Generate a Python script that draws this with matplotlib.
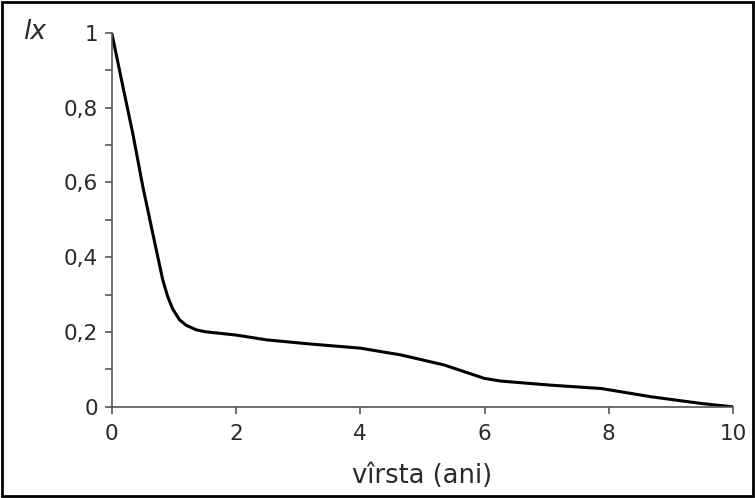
import numpy as np
import matplotlib
matplotlib.use("Agg")
import matplotlib.pyplot as plt
from matplotlib.patches import Rectangle
from matplotlib.ticker import FuncFormatter, MultipleLocator

# survival curve
age = [0, 0.18, 0.34, 0.5, 0.66, 0.82, 0.9, 0.98, 1.09, 1.2, 1.36, 1.5, 2.0, 2.5, 3.2,
       4.0, 4.65, 5.35, 6.0, 6.26, 7.07, 7.88, 8.68, 9.49, 10]
lx = [1.0, 0.856, 0.73, 0.589, 0.464, 0.34, 0.295, 0.262, 0.233, 0.218, 0.206, 0.201,
      0.192, 0.179, 0.168, 0.157, 0.139, 0.112, 0.076, 0.069, 0.058, 0.049, 0.027,
      0.009, 0.0]

x_ticks = [0, 2, 4, 6, 8, 10]
y_ticks = [0, 0.2, 0.4, 0.6, 0.8, 1]

fig = plt.figure(figsize=(7.55, 4.98), dpi=100)
ax = fig.add_axes([0.148, 0.183, 0.823, 0.751])

ax.plot(age, lx, color="black", lw=2.2, solid_joinstyle="round")

ax.set_xlim(0, 10)
ax.set_ylim(0, 1)
ax.set_xticks(x_ticks)
ax.set_yticks(y_ticks)
ax.yaxis.set_minor_locator(MultipleLocator(0.1))
ax.yaxis.set_major_formatter(FuncFormatter(lambda v, p: ("%g" % v).replace(".", ",")))

for s in ["top", "right"]:
    ax.spines[s].set_visible(False)
for s in ["left", "bottom"]:
    ax.spines[s].set_color("#555555")
    ax.spines[s].set_linewidth(1.2)
ax.tick_params(axis="both", colors="#555555", length=5, width=1.2, labelsize=15.5,
               labelcolor="#2a2a2a", pad=5)
ax.tick_params(axis="x", pad=7)
ax.tick_params(axis="y", which="minor", colors="#555555", length=5, width=1.2)

ax.set_xlabel("vîrsta (ani)", fontsize=18.5, color="#2a2a2a", labelpad=14)
fig.text(0.031, 0.935, "lx", fontsize=19, style="italic", color="#2a2a2a",
         ha="left", va="center")

fig.patches.append(Rectangle((0.003, 0.004), 0.994, 0.992, transform=fig.transFigure,
                             fill=False, edgecolor="black", lw=2))

fig.savefig("out.png", dpi=100, facecolor="white")
